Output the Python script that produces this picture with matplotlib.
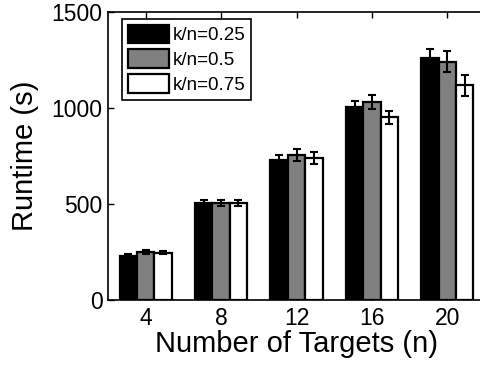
import matplotlib
matplotlib.use("Agg")
import matplotlib.pyplot as plt
import numpy as np

plt.rcParams['font.family'] = ['Liberation Sans', 'DejaVu Sans']

# Data
targets = [4, 8, 12, 16, 20]
series_labels = ['k/n=0.25', 'k/n=0.5', 'k/n=0.75']
runtime_025 = [229, 506, 729, 1004, 1262]
runtime_050 = [248, 505, 757, 1030, 1240]
runtime_075 = [246, 506, 740, 951, 1118]
err_025 = [10, 16, 28, 34, 45]
err_050 = [10, 16, 32, 36, 55]
err_075 = [9, 15, 30, 33, 55]
yticks = [0, 500, 1000, 1500]

values = [runtime_025, runtime_050, runtime_075]
errors = [err_025, err_050, err_075]
colors = ['black', '#808080', 'white']

fig = plt.figure(figsize=(4.8, 3.67), dpi=100)
ax = fig.add_axes([108 / 480, 1 - 300 / 367, 377 / 480, 288 / 367])

x = np.array(targets, dtype=float)
bw = 0.92
for i, (vals, errs, c) in enumerate(zip(values, errors, colors)):
    pos = x + (i - 1) * bw
    ax.bar(pos, vals, width=bw, color=c, edgecolor='black', linewidth=1.6,
           label=series_labels[i], zorder=2)
    ax.errorbar(pos, vals, yerr=errs, fmt='none', ecolor='black',
                elinewidth=1.5, capsize=3, capthick=1.5, zorder=3)

ax.set_xlim(2, 22)
ax.set_ylim(0, 1500)
ax.set_xticks(targets)
ax.set_xticklabels([str(t) for t in targets])
ax.set_yticks(yticks)
ax.set_yticklabels([str(t) for t in yticks])
ax.tick_params(axis='both', direction='in', labelsize=16.5, length=4, width=1,
               top=True, right=False)
ax.tick_params(axis='x', pad=5)
ax.tick_params(axis='y', pad=4)
for s in ax.spines.values():
    s.set_linewidth(1.2)

ax.set_xlabel('Number of Targets (n)', fontsize=21, labelpad=0)
ax.set_ylabel('Runtime (s)', fontsize=21, labelpad=9)

leg = ax.legend(loc='upper left', bbox_to_anchor=(0.037, 0.976), fontsize=13.5,
                handlelength=2.2, handleheight=1.15, handletextpad=0.2,
                labelspacing=0.28, borderpad=0.3, borderaxespad=0.0,
                fancybox=False, framealpha=1, edgecolor='black')
leg.get_frame().set_linewidth(1.2)

fig.savefig('out.png', dpi=100)
